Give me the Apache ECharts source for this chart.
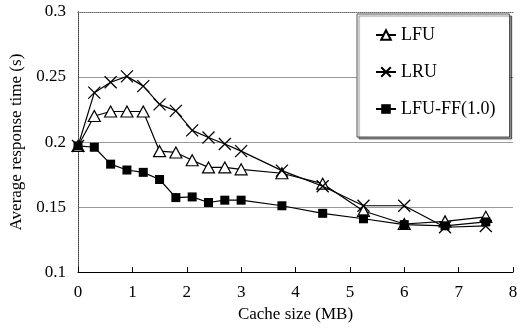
<!DOCTYPE html>
<html lang="en">
    <head>
        <meta http-equiv="Content-Type" content="text/html; charset=utf-8" />
        <title>Average response time vs cache size</title>
        <style>
            * {
                margin: 0;
                padding: 0;
            }
            html,
            body {
                width: 100%;
                height: 100%;
                background: #fff;
            }
            #chart {
                width: 525px;
                height: 328px;
            }
        </style>
    </head>
    <body>
        <div id="chart"></div>
        <script src="https://cdn.jsdelivr.net/npm/echarts@6/dist/echarts.min.js"></script>
        <script>
            // cache sizes (MB)
            const cacheSize = [0, 0.3, 0.6, 0.9, 1.2, 1.5, 1.8, 2.1, 2.4, 2.7, 3.0, 3.75, 4.5, 5.25, 6.0, 6.75, 7.5]
            const lfu = [0.197, 0.22, 0.2235, 0.2235, 0.2235, 0.193, 0.192, 0.186, 0.1805, 0.1805, 0.179, 0.176, 0.168, 0.147, 0.137, 0.139, 0.1425]
            const lru = [0.197, 0.238, 0.246, 0.2505, 0.243, 0.229, 0.224, 0.209, 0.2035, 0.1985, 0.193, 0.178, 0.166, 0.151, 0.151, 0.1345, 0.1355]
            const lfuff = [0.197, 0.196, 0.183, 0.1785, 0.1767, 0.1712, 0.1573, 0.1578, 0.1535, 0.1553, 0.1553, 0.151, 0.1452, 0.141, 0.1365, 0.1356, 0.1386]

            const serif = 'Liberation Serif'
            const pairs = (ys) => cacheSize.map((x, i) => [x, ys[i]])
            const dotted = { color: '#666', type: 'dotted', width: 1 }

            const chart = echarts.init(document.getElementById('chart'))
            chart.setOption({
                animation: false,
                grid: { left: 78, right: 12, top: 12, bottom: 52 },
                textStyle: { fontFamily: serif },
                legend: {
                    orient: 'vertical',
                    left: 357,
                    top: 14,
                    padding: [12, 14, 19, 18],
                    itemGap: 19,
                    itemWidth: 20,
                    itemHeight: 12,
                    backgroundColor: '#fff',
                    borderColor: '#555',
                    borderWidth: 1,
                    shadowColor: 'rgba(0,0,0,0.45)',
                    shadowOffsetX: 2,
                    shadowOffsetY: 2,
                    shadowBlur: 1,
                    textStyle: { fontFamily: serif, fontSize: 18, color: '#000' },
                    data: ['LFU', 'LRU', 'LFU-FF(1.0)'],
                },
                xAxis: [
                    {
                        type: 'value',
                        min: 0,
                        max: 8,
                        interval: 1,
                        name: 'Cache size (MB)',
                        nameLocation: 'middle',
                        nameGap: 27,
                        nameTextStyle: { fontFamily: serif, fontSize: 17, color: '#000' },
                        axisLine: { lineStyle: { color: '#000', width: 1 } },
                        axisTick: { inside: true, length: 5, lineStyle: { color: '#000' } },
                        axisLabel: { margin: 12, fontSize: 17, color: '#000', fontFamily: serif },
                        splitLine: { show: false },
                    },
                    {
                        type: 'value',
                        position: 'top',
                        min: 0,
                        max: 8,
                        axisLine: { show: true, lineStyle: dotted },
                        axisTick: { show: false },
                        axisLabel: { show: false },
                        splitLine: { show: false },
                    },
                ],
                yAxis: [
                    {
                        type: 'value',
                        min: 0.1,
                        max: 0.3,
                        interval: 0.05,
                        name: 'Average response time (s)',
                        nameLocation: 'middle',
                        nameGap: 45,
                        nameTextStyle: { fontFamily: serif, fontSize: 17, color: '#000' },
                        axisLine: { show: true, lineStyle: { color: '#000', width: 1 } },
                        axisTick: { show: false },
                        axisLabel: { margin: 12, fontSize: 17, color: '#000', fontFamily: serif },
                        splitLine: {
                            show: true,
                            showMinLine: false,
                            showMaxLine: false,
                            lineStyle: { color: '#999', width: 1 },
                        },
                    },
                    {
                        type: 'value',
                        position: 'right',
                        min: 0.1,
                        max: 0.3,
                        axisLine: { show: true, lineStyle: dotted },
                        axisTick: { show: false },
                        axisLabel: { show: false },
                        splitLine: { show: false },
                    },
                ],
                series: [
                    {
                        name: 'LFU',
                        type: 'line',
                        data: pairs(lfu),
                        symbol: 'triangle',
                        symbolSize: [12, 11],
                        lineStyle: { color: '#000', width: 1.2 },
                        itemStyle: { color: '#fff', borderColor: '#000', borderWidth: 1.2 },
                        z: 3,
                    },
                    {
                        name: 'LRU',
                        type: 'line',
                        data: pairs(lru),
                        symbol: 'path://M0,0L10,10M10,0L0,10',
                        symbolSize: 12,
                        lineStyle: { color: '#000', width: 1.2 },
                        itemStyle: { color: 'none', borderColor: '#000', borderWidth: 1.3 },
                        z: 4,
                    },
                    {
                        name: 'LFU-FF(1.0)',
                        type: 'line',
                        data: pairs(lfuff),
                        symbol: 'rect',
                        symbolSize: 9,
                        lineStyle: { color: '#000', width: 1.2 },
                        itemStyle: { color: '#000', borderColor: '#000', borderWidth: 0 },
                        z: 5,
                    },
                ],
            })
        </script>
    </body>
</html>
